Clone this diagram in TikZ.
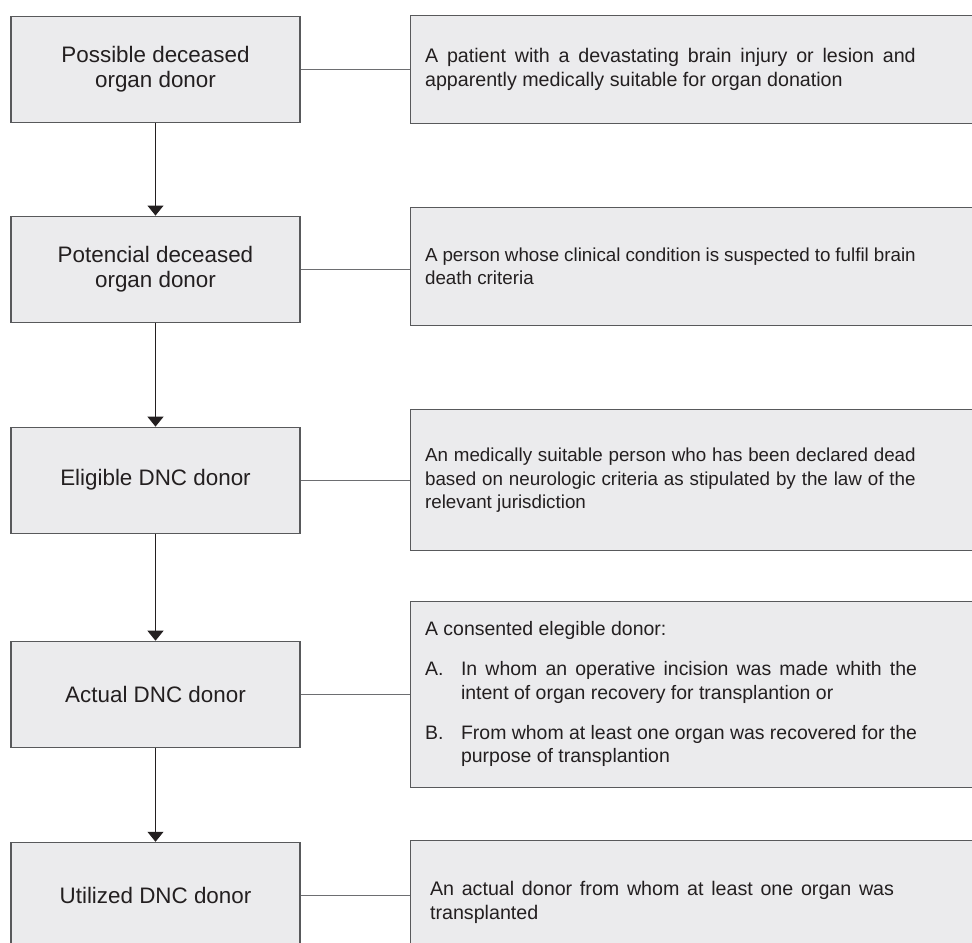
\documentclass[tikz,border=0pt]{standalone}
\usepackage{fontspec}
\setmainfont{Liberation Sans}
\usetikzlibrary{arrows.meta,positioning}

\definecolor{boxfill}{HTML}{EBEBED}
\definecolor{boxline}{HTML}{58595B}
\definecolor{linkgray}{HTML}{6D6E71}
\definecolor{ink}{HTML}{231F20}

\newcommand{\deftext}[3]{\parbox{#1}{\fontsize{#2}{17.5pt}\selectfont
	\leftskip=0pt\rightskip=0pt\parfillskip=0pt plus 1fil\spaceskip=0pt\xspaceskip=0pt
	\setlength{\parskip}{12.5pt}#3}}

\begin{document}
\begin{tikzpicture}[node distance=81.75pt,
	stage/.style	={rectangle,draw=boxline,fill=boxfill,line width=.8pt,text=ink,inner sep=0pt,minimum width=216.75pt,minimum height=79.5pt,align=center,font=\fontsize{16.8pt}{18.75pt}\selectfont},
	criterion/.style	={rectangle,draw=boxline,fill=boxfill,line width=.8pt,text=ink,inner xsep=11.25pt,inner ysep=0pt,text width=427.5pt,align=justify},
	link/.style	={draw=linkgray, line width=.75pt},
	paths/.style	={->, draw=ink, line width=.75pt, >={Triangle[width=12pt,length=7.5pt]}},
	]
	
	\clip (-116.625pt,52.125pt) rectangle (612.375pt,-655.125pt);
	
	\node [stage] (PO) at (0,0) {Possible deceased\\ organ donor};
	\node [stage] (PT) [below=69.4pt of PO] {Potencial deceased\\ organ donor};
	\node [stage] (EL) [below=78pt of PT] {Eligible DNC donor};
	\node [stage] (AC) [below=80.25pt of EL] {Actual DNC donor};
	\node [stage] (UT) [below=70.5pt of AC] {Utilized DNC donor};
	
	\node [criterion,minimum height=81pt] (dPO) [right=of PO]
		{\deftext{368pt}{14.75pt}{A patient with a devastating brain injury or lesion and\linebreak apparently medically suitable for organ donation}};
	\node [criterion,minimum height=88.5pt,yshift=2.25pt] (dPT) [right=of PT]
		{\deftext{368pt}{14.1pt}{A person whose clinical condition is suspected to fulfil brain\linebreak death criteria}};
	\node [criterion,minimum height=105.75pt] (dEL) [right=of EL]
		{\deftext{368pt}{14.1pt}{An medically suitable person who has been declared dead\linebreak based on neurologic criteria as stipulated by the law of the\linebreak relevant jurisdiction}};
	\node [criterion,minimum height=139.5pt] (dAC) [right=of AC]
		{\deftext{369pt}{14.6pt}{A consented elegible donor:\par
		\hangindent=27pt\makebox[27pt][l]{A.}In whom an operative incision was made whith the\linebreak intent of organ recovery for transplantion or\par
		\hangindent=27pt\makebox[27pt][l]{B.}From whom at least one organ was recovered for the\linebreak purpose of transplantion}};
	\node [criterion,minimum height=93pt,yshift=-5.25pt] (dUT) [right=of UT]
		{\hspace*{3.75pt}\deftext{348pt}{14.75pt}{An actual donor from whom at least one organ was\linebreak transplanted}};
	
	\foreach \st in {PO, PT, EL, AC, UT}
	{
		\draw [link] (\st.east) -- (\st.east -| d\st.west);
	}
	
	\foreach \a/\b in {PO/PT, PT/EL, EL/AC, AC/UT}
	\draw [paths] (\a.south) -- (\b.north);
\end{tikzpicture}
\end{document}
